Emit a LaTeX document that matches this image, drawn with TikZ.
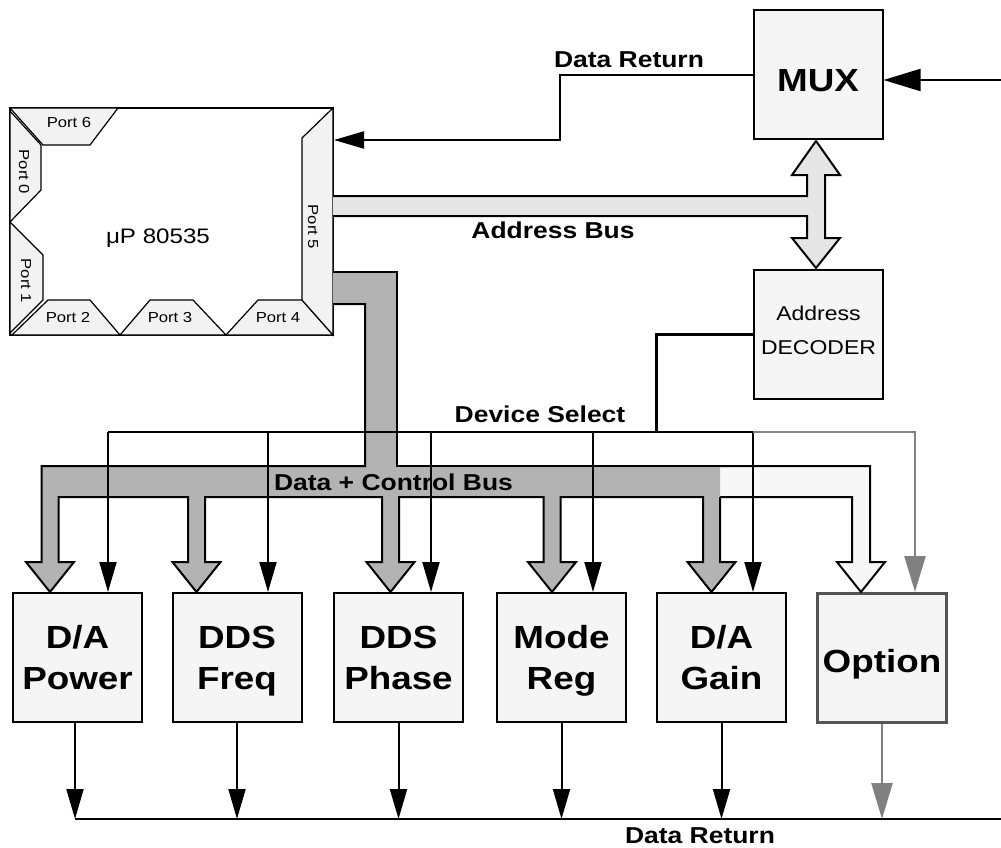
\documentclass[tikz,border=0pt]{standalone}
\usepackage{fontspec}
\setmainfont{Liberation Sans}[FakeStretch=1.15]
\usetikzlibrary{arrows.meta}
\definecolor{boxfill}{HTML}{F5F5F5}
\definecolor{portfill}{HTML}{F2F2F2}
\definecolor{dbus}{HTML}{B3B3B3}
\definecolor{abus}{HTML}{E6E6E6}
\definecolor{obus}{HTML}{F7F7F7}
\definecolor{gline}{HTML}{808080}
\definecolor{optedge}{HTML}{555555}
\newcommand{\twoline}[2]{\rule{0pt}{29pt}#1\\#2\vphantom{g}}
\begin{document}
\begin{tikzpicture}[x=1pt,y=-1pt,
  block/.style={draw=black, line width=2pt, fill=boxfill, minimum width=129pt, minimum height=129pt, inner sep=0pt, align=center, font=\fontsize{32}{41}\selectfont\bfseries},
  port/.style={draw=black, line width=1.2pt, fill=portfill, line join=miter},
  plabel/.style={font=\fontsize{14.5}{16}\selectfont, inner sep=0pt},
  lbl/.style={font=\fontsize{23}{26}\selectfont\bfseries, anchor=base, inner sep=0pt},
  wire/.style={draw=black, line width=2pt},
  arr/.style={wire, -{Triangle[length=30pt,width=17pt]}},
  garr/.style={draw=gline, line width=2.5pt, -{Triangle[length=36pt,width=21pt]}},
  busline/.style={draw=black, line width=2pt, line join=miter},
]
\useasboundingbox (0,0) rectangle (1001,848);

% ---- microprocessor
\node[draw=black, line width=2pt, fill=white, minimum width=323pt, minimum height=227pt, inner sep=0pt] (up) at (171.5,221.5) {};
\filldraw[port] (10,108) -- (118,108) -- (90,145) -- (43,145) -- cycle;
\filldraw[port] (10,111) -- (41,145) -- (41,190) -- (10,222) -- cycle;
\filldraw[port] (10,222) -- (43,255) -- (43,300) -- (10,333) -- cycle;
\filldraw[port] (12,335) -- (48,300) -- (90,300) -- (120,335) -- cycle;
\filldraw[port] (120,335) -- (150,300) -- (193,300) -- (226,335) -- cycle;
\filldraw[port] (226,335) -- (258,300) -- (302,300) -- (333,335) -- cycle;
\filldraw[port] (333,108) -- (302,138) -- (302,300) -- (333,335) -- cycle;
\node[plabel] at (69,123) {Port 6};
\node[plabel, rotate=-90] at (24,172) {Port 0};
\node[plabel, rotate=-90] at (26,281) {Port 1};
\node[plabel] at (68,318) {Port 2};
\node[plabel] at (170,318) {Port 3};
\node[plabel] at (278,318) {Port 4};
\node[plabel, rotate=-90] at (313,227) {Port 5};
\node[font=\fontsize{21}{24}\selectfont, anchor=base, inner sep=0pt] at (158,243) {μP 80535};

% ---- MUX and decoder
\node[block] (mux) at (818,75) {};
\node[font=\fontsize{32}{41}\selectfont\bfseries, anchor=base, inner sep=0pt] at (818,92) {MUX};
\node[block, label={[font=\fontsize{20}{34}\selectfont, align=center, yshift=4pt]center:Address\\DECODER}] (dec) at (818.5,334) {};

% ---- bottom blocks
\node[block] (b1) at (77.5,657.5) {\twoline{D/A}{Power}};
\node[block] (b2) at (237,657.5) {\twoline{DDS}{Freq}};
\node[block] (b3) at (398.5,657.5) {\twoline{DDS}{Phase}};
\node[block] (b4) at (561.5,657.5) {\twoline{Mode}{Reg}};
\node[block] (b5) at (721.5,657.5) {\twoline{D/A}{Gain}};
\node[block, draw=optedge, line width=3pt] (b6) at (882,658) {};
\node[font=\fontsize{32}{41}\selectfont\bfseries, anchor=base, inner sep=0pt] at (882,672) {Option};

% ---- address bus (double arrow)
\fill[abus] (333,196) -- (807,196) -- (807,175) -- (792,175) -- (816,141) -- (840,175) -- (825,175) -- (825,238) -- (840,238) -- (816,268) -- (792,238) -- (807,238) -- (807,216) -- (333,216) -- cycle;
\draw[busline] (333,196) -- (807,196) -- (807,175) -- (792,175) -- (816,141) -- (840,175) -- (825,175) -- (825,238) -- (840,238) -- (816,268) -- (792,238) -- (807,238) -- (807,216) -- (333,216);

% ---- option bus (light)
\fill[obus] (718,466) -- (870,466) -- (870,562) -- (885,562) -- (861,592) -- (837,562) -- (852,562) -- (852,497) -- (718,497) -- cycle;
\draw[busline] (718,466) -- (870,466) -- (870,562) -- (885,562) -- (861,592) -- (837,562) -- (852,562) -- (852,497) -- (720,497);

% ---- data + control bus
\fill[dbus] (333,272) -- (397,272) -- (397,466) -- (720,466) -- (720,562) -- (735.5,562) -- (711.5,592) -- (687.5,562) -- (703,562) -- (703,497) -- (560.5,497) -- (560.5,562) -- (576,562) -- (552,592) -- (528,562) -- (543.5,562) -- (543.5,497) -- (399,497) -- (399,562) -- (414.5,562) -- (390.5,592) -- (366.5,562) -- (382,562) -- (382,497) -- (205,497) -- (205,562) -- (220.5,562) -- (196.5,592) -- (172.5,562) -- (188,562) -- (188,497) -- (58.5,497) -- (58.5,562) -- (74,562) -- (50,592) -- (26,562) -- (41.5,562) -- (41.5,466) -- (365,466) -- (365,304) -- (333,304) -- cycle;
\draw[busline] (720,497) -- (720,562) -- (735.5,562) -- (711.5,592) -- (687.5,562) -- (703,562) -- (703,497) -- (560.5,497) -- (560.5,562) -- (576,562) -- (552,592) -- (528,562) -- (543.5,562) -- (543.5,497) -- (399,497) -- (399,562) -- (414.5,562) -- (390.5,592) -- (366.5,562) -- (382,562) -- (382,497) -- (205,497) -- (205,562) -- (220.5,562) -- (196.5,592) -- (172.5,562) -- (188,562) -- (188,497) -- (58.5,497) -- (58.5,562) -- (74,562) -- (50,592) -- (26,562) -- (41.5,562) -- (41.5,466) -- (365,466) -- (365,304) -- (333,304);
\draw[busline] (333,272) -- (397,272) -- (397,466) -- (720,466);

% ---- data return (top) and MUX input
\coordinate (dr0) at (560,140);
\draw[arr] (mux.west) -| (dr0) -- (dr0 -| up.east);
\coordinate (inR) at (1001,80);
\draw[wire, -{Triangle[length=37pt,width=22pt]}] (inR) -- (inR -| mux.east);

% ---- device select
\coordinate (s0) at (656,432);
\coordinate (s1) at (108,432);
\coordinate (s2) at (268,432);
\coordinate (s3) at (431,432);
\coordinate (s4) at (593,432);
\coordinate (s5) at (753,432);
\coordinate (s6) at (915,432);
\draw[draw=black, line width=3pt] (dec.west) -| (s0);
\draw[wire] (s1) -- (s5);
\draw[arr] (s1) -- (s1 |- b1.north);
\draw[arr] (s2) -- (s2 |- b2.north);
\draw[arr] (s3) -- (s3 |- b3.north);
\draw[arr] (s4) -- (s4 |- b4.north);
\draw[arr] (s5) -- (s5 |- b5.north);
\draw[garr] (s5) -- (s6) -- (s6 |- b6.north);

% ---- data return (bottom)
\coordinate (drL) at (75,819);
\coordinate (drR) at (1001,819);
\draw[wire] (drL) -- (drR);
\draw[arr] (b1.south -| drL) -- (drL);
\draw[arr] (b2.south) -- (b2.south |- drL);
\draw[arr] (b3.south) -- (b3.south |- drL);
\draw[arr] (b4.south) -- (b4.south |- drL);
\draw[arr] (b5.south) -- (b5.south |- drL);
\draw[garr] (b6.south) -- (b6.south |- drL);

% ---- labels
\node[lbl] at (629,68) {Data Return};
\node[lbl] at (553,238) {Address Bus};
\node[lbl] at (540,422) {Device Select};
\node[lbl] at (393.5,490) {Data + Control Bus};
\node[lbl] at (700,843) {Data Return};
\end{tikzpicture}
\end{document}
